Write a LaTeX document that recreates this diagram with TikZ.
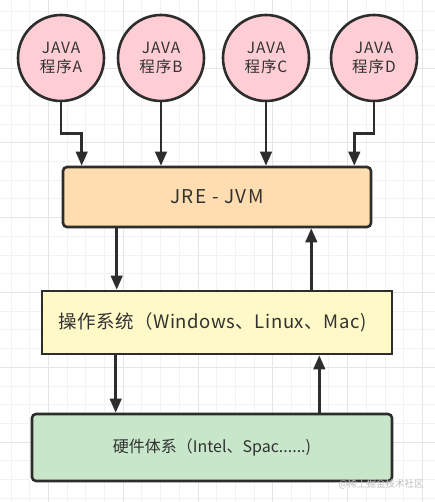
\documentclass[tikz,border=0pt]{standalone}
\usepackage{fontspec}
\setmainfont{Noto Sans CJK SC}
\usetikzlibrary{arrows.meta}

\definecolor{progpink}{RGB}{255,205,212}
\definecolor{jrepeach}{RGB}{255,221,176}
\definecolor{osyellow}{RGB}{255,249,200}
\definecolor{hwgreen}{RGB}{200,230,201}
\definecolor{linegray}{RGB}{45,45,45}
\definecolor{textgray}{RGB}{50,50,50}

\tikzset{
  gridminor/.style={draw=black!5, line width=0.8pt},
  gridmajor/.style={draw=black!10, line width=0.8pt},
  prog/.style={circle, draw=linegray, line width=2.6pt, fill=progpink, minimum size=86pt, inner sep=0pt,
    align=center, text=textgray, font=\fontsize{15.5}{19}\selectfont\addfontfeatures{LetterSpace=6}},
  layer/.style={rectangle, draw=linegray, line width=2.6pt, inner sep=0pt, text=textgray},
  arr/.style={draw=linegray, line width=2.6pt, -{Triangle[length=14pt,width=11.5pt]}}
}

\begin{document}
\begin{tikzpicture}[x=1pt,y=-1pt]
  \useasboundingbox (0,0) rectangle (435,502);
  \fill[white] (0,0) rectangle (435,502);
  % background grid
  \foreach \i in {0,...,22}
    \draw[gridminor] (10.9+18.7*\i,0) -- (10.9+18.7*\i,502);
  \foreach \j in {0,...,26}
    \draw[gridminor] (0,11.9+18.7*\j) -- (435,11.9+18.7*\j);
  \foreach \i in {0,...,5}
    \draw[gridmajor] (48.3+74.8*\i,0) -- (48.3+74.8*\i,502);
  \foreach \j in {0,...,5}
    \draw[gridmajor] (0,68+74.8*\j) -- (435,68+74.8*\j);

  % programs
  \node[prog] (progA) at (61,58) {JAVA\\程序A};
  \node[prog] (progB) at (161,58) {JAVA\\程序B};
  \node[prog] (progC) at (266,58) {JAVA\\程序C};
  \node[prog] (progD) at (374,58) {JAVA\\程序D};

  % layers
  \node[layer, rounded corners=4pt, fill=jrepeach, minimum width=308pt, minimum height=60pt,
    font=\fontsize{19}{22}\selectfont\addfontfeatures{LetterSpace=7}] (jre) at (217,197) {JRE - JVM};
  \node[layer, fill=osyellow, minimum height=63pt, inner xsep=16pt, text width=318pt, align=left,
    font=\fontsize{18.5}{22}\selectfont\addfontfeatures{LetterSpace=3}] (os) at (217,322.5) {操作系统（Windows、Linux、Mac)};
  \node[layer, rounded corners=4pt, fill=hwgreen, minimum width=360pt, minimum height=67pt,
    font=\fontsize{16}{19}\selectfont] (hw) at (212,447.5) {硬件体系（Intel、Spac......)};

  % programs to jre
  \draw[arr] (progA.south) |- ([xshift=20pt,yshift=32pt]jre.north west) -- ([xshift=20pt]jre.north west);
  \draw[arr] (progB.south) -- (progB.south |- jre.north);
  \draw[arr] (progC.south) -- (progC.south |- jre.north);
  \draw[arr] (progD.south) |- ([xshift=-18pt,yshift=32pt]jre.north east) -- ([xshift=-18pt]jre.north east);

  % jre <-> os
  \coordinate (jdown) at ([xshift=55pt]jre.south west);
  \coordinate (jup) at ([xshift=-61pt]jre.south east);
  \draw[arr] (jdown) -- (jdown |- os.north);
  \draw[arr] (jup |- os.north) -- (jup);

  % os <-> hw
  \coordinate (odown) at ([xshift=75pt]os.south west);
  \coordinate (oup) at ([xshift=-74pt]os.south east);
  \draw[arr] (odown) -- (odown |- hw.north);
  \draw[arr] (oup |- hw.north) -- (oup);

  \node[text=black!25, font=\fontsize{9.5}{11}\selectfont] (mark) at (381,484) {@稀土掘金技术社区};
\end{tikzpicture}
\end{document}
